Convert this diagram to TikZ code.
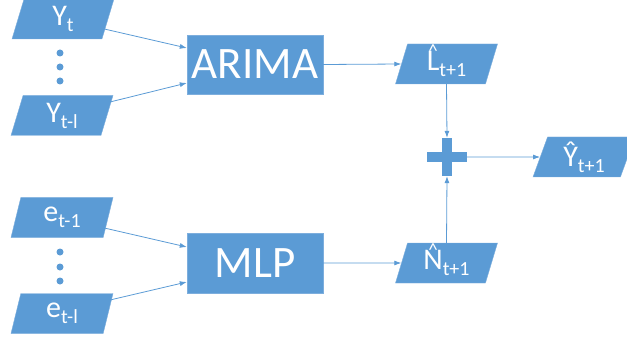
\documentclass[tikz,border=0pt]{standalone}
\usepackage{fontspec}
\setmainfont{Carlito}
\usetikzlibrary{arrows.meta,shapes.geometric,calc}
\definecolor{boxblue}{HTML}{5B9BD5}
\definecolor{edgeblue}{HTML}{7DAEDD}
\definecolor{lineblue}{HTML}{5B9BD5}
% lowered, smaller index text
\newcommand{\lowsub}[1]{\raisebox{-6pt}{\fontsize{20}{20}\selectfont #1}}
% small caret set above a capital
\newcommand{\caretover}[1]{\leavevmode\ooalign{#1\cr\hidewidth\raisebox{0.42em}{\fontsize{19}{19}\selectfont\textasciicircum}\hidewidth\cr}}
\tikzset{
  para/.style={trapezium, trapezium left angle=64.6, trapezium right angle=115.4,
    trapezium stretches body=true, minimum width=102pt, minimum height=40pt,
    inner sep=0pt, fill=boxblue, draw=edgeblue, line width=0.4pt, text=white,
    font=\fontsize{30}{30}\selectfont},
  model/.style={rectangle, minimum width=136pt, minimum height=59pt, inner sep=0pt,
    fill=boxblue, draw=edgeblue, line width=0.4pt, text=white,
    font=\fontsize{45}{45}\selectfont},
  dotmark/.style={circle, fill=boxblue, inner sep=0pt, minimum size=7pt},
  conn/.style={draw=lineblue, line width=0.8pt, -{Latex[length=7pt,width=5pt]}}
}
\begin{document}
\begin{tikzpicture}[x=1pt,y=-1pt]
\useasboundingbox (0,0) rectangle (627,342);

% inputs of the linear part
\node[para] (yt)  at (63,19)    {Y\lowsub{t}};
\node[para] (ytl) at (62,115.5) {Y\lowsub{t-l}};
\node[dotmark] (yd1) at (60,53) {};
\node[dotmark] (yd2) at (60,67) {};
\node[dotmark] (yd3) at (60,81) {};

% inputs of the nonlinear part
\node[para] (e1)  at (62,217.5) {e\lowsub{t-1}};
\node[para] (el)  at (62,313.5) {e\lowsub{t-l}};
\node[dotmark] (ed1) at (60,252) {};
\node[dotmark] (ed2) at (60,267) {};
\node[dotmark] (ed3) at (60,281) {};

% models
\node[model] (arima) at (255,64.5) {ARIMA};
\node[model, minimum height=60pt] (mlp) at (255,263) {MLP};

% partial forecasts
\node[para] (lhat) at (446.5,64)  {\caretover{L}\lowsub{t+1}};
\node[para] (nhat) at (446.5,263) {\caretover{N}\lowsub{t+1}};

% sum
\node[minimum width=39pt, minimum height=38pt, inner sep=0pt] (plus) at (447,157) {};
\fill[boxblue] ([yshift=5pt]plus.west) rectangle ([yshift=-5pt]plus.east);
\fill[boxblue] ([xshift=-5pt]plus.north) rectangle ([xshift=5pt]plus.south);

% combined forecast
\node[para] (yhat) at (584,157) {Ŷ\lowsub{t+1}};

% connectors
\draw[conn] ($(yt.center)+(37,9)$)     -- ([yshift=16.5pt]arima.west);
\draw[conn] ($(ytl.center)+(48,-13.5)$) -- ([yshift=-18.5pt]arima.west);
\draw[conn] ($(e1.center)+(38,9.5)$)    -- ([yshift=16pt]mlp.west);
\draw[conn] ($(el.center)+(48,-13.5)$)  -- ([yshift=-19pt]mlp.west);
\draw[conn] (arima.east) -- (lhat.west);
\draw[conn] (mlp.east) -- (nhat.west);
\draw[conn] (lhat.south) -- (plus.north);
\draw[conn] (nhat.north) -- (plus.south);
\draw[conn] (plus.east) -- (yhat.west);
\end{tikzpicture}
\end{document}
